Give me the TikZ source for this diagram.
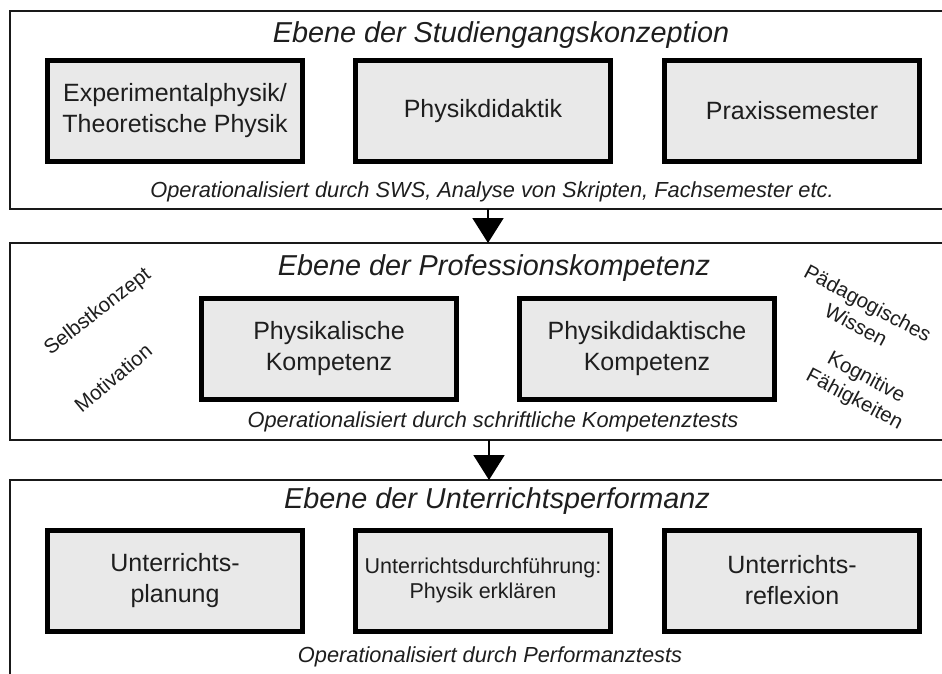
\documentclass[tikz,border=0pt]{standalone}
\usepackage{fontspec}
\setmainfont{Liberation Sans}
\usetikzlibrary{arrows.meta}
\definecolor{boxgray}{HTML}{E9E9E9}
\definecolor{textgray}{HTML}{1E1E1E}
\tikzset{
 panel/.style={draw=black!90, line width=2.5pt},
 box/.style={draw=black, line width=5pt, fill=boxgray, minimum width=255pt, minimum height=101pt, align=center, font=\fontsize{25}{31}\selectfont, text=textgray, inner sep=0pt},
 smallbox/.style={box, font=\fontsize{21.5}{25}\selectfont},
 ttl/.style={font=\itshape\fontsize{28.8}{34}\selectfont, anchor=base, text=textgray, inner sep=0pt},
 subttl/.style={font=\itshape\fontsize{21.8}{25}\selectfont, anchor=base, text=textgray, inner sep=0pt},
 side/.style={font=\fontsize{20.5}{25}\selectfont, align=center, text=textgray, inner sep=0pt},
 arr/.style={-{Triangle[length=25pt,width=31pt]}, line width=2pt}
}
\begin{document}
\begin{tikzpicture}[x=1pt,y=-1pt]
\useasboundingbox (0,0) rectangle (942,673);
\clip (0,0) rectangle (942,673);
\fill[white] (0,0) rectangle (942,673);
% panels
\draw[panel] (10,11) rectangle (960,209);
\draw[panel] (10,243) rectangle (960,440);
\draw[panel] (10,480) rectangle (960,700);
% panel 1
\node[ttl] (t1) at (501,42) {Ebene der Studiengangskonzeption};
\node[box] (b11) at (175,111) {Experimentalphysik/\\Theoretische Physik};
\node[box] (b12) at (483,111) {Physikdidaktik};
\node[box] (b13) at (792,111) {Praxissemester};
\node[subttl] (s1) at (492,197) {Operationalisiert durch SWS, Analyse von Skripten, Fachsemester etc.};
% panel 2
\node[ttl] (t2) at (494,275) {Ebene der Professionskompetenz};
\node[box] (b21) at (329,348.5) {Physikalische\\Kompetenz};
\node[box] (b22) at (647,348.5) {Physikdidaktische\\Kompetenz};
\node[subttl] (s2) at (493,427) {Operationalisiert durch schriftliche Kompetenztests};
\node[side, rotate=38] (sk) at (98,312) {Selbstkonzept};
\node[side, rotate=40] (mo) at (113,378) {Motivation};
\node[side, rotate=-28] (pw) at (862,314) {Pädagogisches\\Wissen};
\node[side, rotate=-28] (kf) at (860,389) {Kognitive\\Fähigkeiten};
% panel 3
\node[ttl] (t3) at (497,508) {Ebene der Unterrichtsperformanz};
\node[box] (b31) at (175,580.5) {Unterrichts-\\planung};
\node[smallbox] (b32) at (483,580.5) {Unterrichtsdurchführung:\\Physik erklären};
\node[box] (b33) at (792,580.5) {Unterrichts-\\reflexion};
\node[subttl] (s3) at (490,662) {Operationalisiert durch Performanztests};
% arrows
\coordinate (a1s) at (488,209);
\coordinate (a1e) at (488,243);
\coordinate (a2s) at (489,440);
\coordinate (a2e) at (489,480);
\draw[arr] (a1s) -- (a1e);
\draw[arr] (a2s) -- (a2e);
\end{tikzpicture}
\end{document}
